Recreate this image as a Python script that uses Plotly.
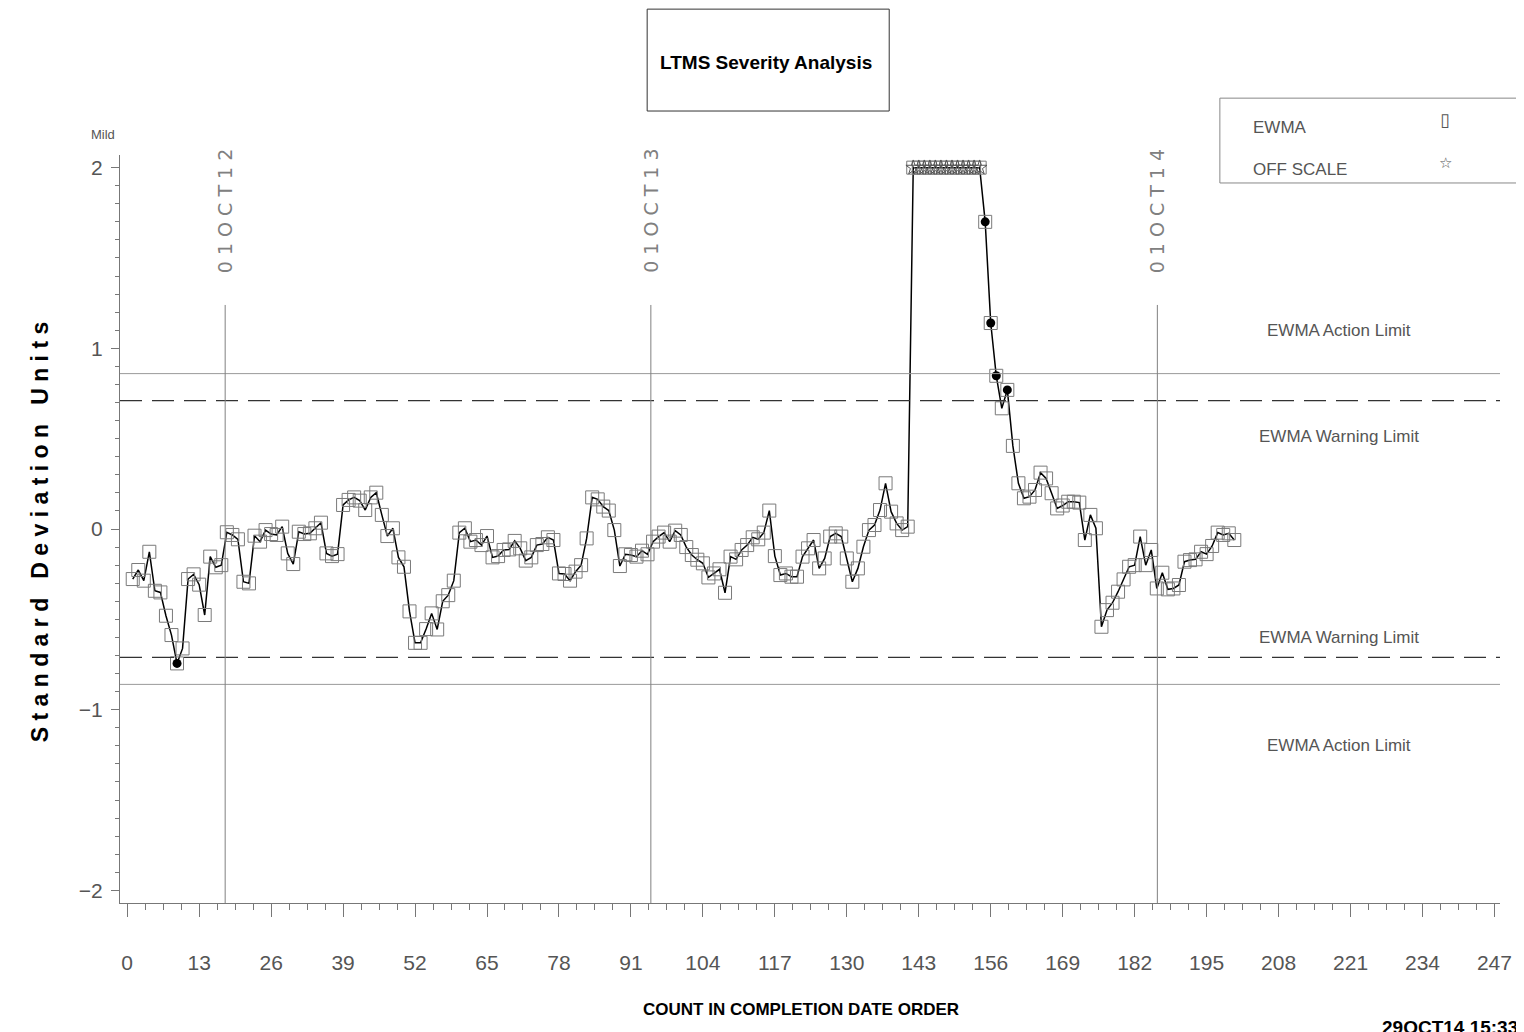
import plotly.graph_objects as go

# EWMA severity values, test count 1..200 (off-scale points drawn at the 2.0 ceiling)
counts = list(range(1, 201))
ewma = [
    -0.277, -0.227, -0.286, -0.126, -0.342, -0.351, -0.480, -0.587, -0.744, -0.661,
    -0.277, -0.251, -0.308, -0.476, -0.153, -0.212, -0.200, -0.018, -0.033, -0.057,
    -0.292, -0.301, -0.037, -0.070, -0.006, -0.028, -0.033, 0.013, -0.135, -0.194,
    -0.015, -0.028, -0.024, 0.004, 0.035, -0.135, -0.150, -0.139, 0.133, 0.161,
    0.175, 0.157, 0.105, 0.175, 0.201, 0.078, -0.039, 0.004, -0.157, -0.209,
    -0.456, -0.630, -0.630, -0.554, -0.467, -0.556, -0.400, -0.366, -0.286, -0.020,
    0.004, -0.070, -0.061, -0.089, -0.039, -0.157, -0.150, -0.116, -0.113, -0.066,
    -0.107, -0.175, -0.157, -0.089, -0.083, -0.046, -0.061, -0.246, -0.249, -0.286,
    -0.236, -0.200, -0.052, 0.175, 0.164, 0.124, 0.102, -0.006, -0.205, -0.140,
    -0.144, -0.153, -0.120, -0.140, -0.070, -0.042, -0.020, -0.070, -0.009, -0.033,
    -0.100, -0.144, -0.170, -0.190, -0.268, -0.246, -0.223, -0.353, -0.153, -0.168,
    -0.116, -0.089, -0.046, -0.057, -0.020, 0.102, -0.150, -0.255, -0.246, -0.264,
    -0.264, -0.153, -0.107, -0.061, -0.218, -0.163, -0.042, -0.024, -0.042, -0.163,
    -0.292, -0.218, -0.098, -0.006, 0.022, 0.105, 0.253, 0.096, 0.031, -0.006,
    0.013, 2.0, 2.0, 2.0, 2.0, 2.0, 2.0, 2.0, 2.0, 2.0,
    2.0, 2.0, 2.0, 2.0, 1.700, 1.140, 0.848, 0.668, 0.770, 0.460,
    0.253, 0.170, 0.179, 0.216, 0.312, 0.280, 0.198, 0.114, 0.130, 0.151,
    0.151, 0.146, -0.061, 0.078, 0.004, -0.541, -0.449, -0.408, -0.347, -0.279,
    -0.209, -0.200, -0.042, -0.200, -0.116, -0.329, -0.242, -0.334, -0.329, -0.310,
    -0.181, -0.172, -0.168, -0.126, -0.139, -0.094, -0.020, -0.033, -0.024, -0.061,
]
action_limit = 0.86
warning_limit = 0.71
scale_max = 2.0

date_pos = [17.7, 94.6, 186.1]
date_labels = ["01OCT12", "01OCT13", "01OCT14"]

x_ticks = list(range(0, 248, 13))

FONT = "Liberation Sans, Arial, sans-serif"
GRAY = "#555555"

off_x = [c for c, v in zip(counts, ewma) if v >= scale_max]
off_y = [v for v in ewma if v >= scale_max]
warn_x = [c for c, v in zip(counts, ewma) if abs(v) > warning_limit and v < scale_max]
warn_y = [v for v in ewma if abs(v) > warning_limit and v < scale_max]

fig = go.Figure()
fig.add_trace(go.Scatter(x=counts, y=ewma, mode="lines",
                         line=dict(color="black", width=1.5), hoverinfo="skip"))
fig.add_trace(go.Scatter(x=counts, y=ewma, mode="markers",
                         marker=dict(symbol="square-open", size=13, color="#7a7a7a",
                                     line=dict(width=1, color="#7a7a7a"))))
fig.add_trace(go.Scatter(x=warn_x, y=warn_y, mode="markers",
                         marker=dict(symbol="circle", size=9, color="black")))
fig.add_trace(go.Scatter(x=off_x, y=off_y, mode="markers",
                         marker=dict(symbol="star-open", size=11, color="#555",
                                     line=dict(width=1, color="#555"))))


def note(x, y, text, size, color=GRAY, family=FONT, angle=0, xanchor="center", ref="paper"):
    fig.add_annotation(x=x, y=y, xref=ref, yref=ref if ref == "paper" else "y",
                       text=text, showarrow=False, textangle=angle,
                       xanchor=xanchor, yanchor="middle",
                       font=dict(family=family, size=size, color=color))


# control limits
for lim in (action_limit, -action_limit):
    fig.add_shape(type="line", xref="paper", x0=0, x1=1, yref="y", y0=lim, y1=lim,
                  line=dict(color="#999999", width=1))
for lim in (warning_limit, -warning_limit):
    fig.add_shape(type="line", xref="paper", x0=0, x1=1, yref="y", y0=lim, y1=lim,
                  line=dict(color="#333333", width=1.3, dash="22px,10px"))

limit_labels = [("EWMA Action Limit", 1.10), ("EWMA Warning Limit", 0.51),
                ("EWMA Warning Limit", -0.60), ("EWMA Action Limit", -1.197)]
for txt, yy in limit_labels:
    note(219, yy, txt, 17, ref="x")

# date markers
for xp, lab in zip(date_pos, date_labels):
    fig.add_shape(type="line", xref="x", x0=xp, x1=xp, yref="y", y0=1.24, y1=-2.07,
                  line=dict(color="#808080", width=1))
    note(xp, 1.76, " ".join(lab), 19, color="#808080", family="DejaVu Sans",
         angle=-90, ref="x")

# title box
fig.add_shape(type="rect", xref="paper", yref="paper", x0=0.382, x1=0.5574,
              y0=1.0588, y1=1.195, line=dict(color="#333", width=1))
note(0.4679, 1.124, "<b>LTMS Severity Analysis</b>", 19, color="black")

# legend box
fig.add_shape(type="rect", xref="paper", yref="paper", x0=0.797, x1=1.03,
              y0=0.9626, y1=1.076, line=dict(color="#888", width=1))
note(0.8195, 1.0374, "EWMA", 17, xanchor="left")
note(0.8195, 0.980, "OFF SCALE", 17, xanchor="left")
note(0.9603, 1.0468, "▯", 18, family="DejaVu Sans")
note(0.9603, 0.9893, "☆", 15, family="DejaVu Sans")

# axis titles and corner texts
ytitle = "   ".join(" ".join(w) for w in ["Standard", "Deviation", "Units"])
note(-0.0578, 0.496, "<b>" + ytitle + "</b>", 23, color="black", angle=-90)
note(0.4935, -0.143, "<b>COUNT IN COMPLETION DATE ORDER</b>", 17, color="black")
note(-0.0123, 1.027, "Mild", 13)
note(0.913, -0.167, "<b>29OCT14 15:33</b>", 19, color="black", xanchor="left")

fig.update_layout(
    width=1516, height=1024,
    margin=dict(l=112, r=19, t=147, b=129),
    paper_bgcolor="white", plot_bgcolor="white",
    showlegend=False,
    xaxis=dict(range=[-1.3, 248], tickvals=x_ticks, ticks="outside", ticklen=13,
               tickcolor="#777", showline=True, linecolor="#777", linewidth=1,
               showgrid=False, zeroline=False, ticklabelstandoff=28,
               tickfont=dict(family=FONT, size=21, color=GRAY),
               minor=dict(dtick=3.25, tick0=0, ticks="outside", ticklen=6,
                          tickcolor="#777", showgrid=False)),
    yaxis=dict(range=[-2.07, 2.07], tickvals=[-2, -1, 0, 1, 2], ticks="outside",
               ticklen=8, tickcolor="#777", showline=True, linecolor="#777",
               linewidth=1, showgrid=False, zeroline=False, ticklabelstandoff=4,
               tickfont=dict(family=FONT, size=21, color=GRAY),
               minor=dict(dtick=0.1, tick0=0, ticks="outside", ticklen=4,
                          tickcolor="#777", showgrid=False)),
)

fig.write_html("out.html")
